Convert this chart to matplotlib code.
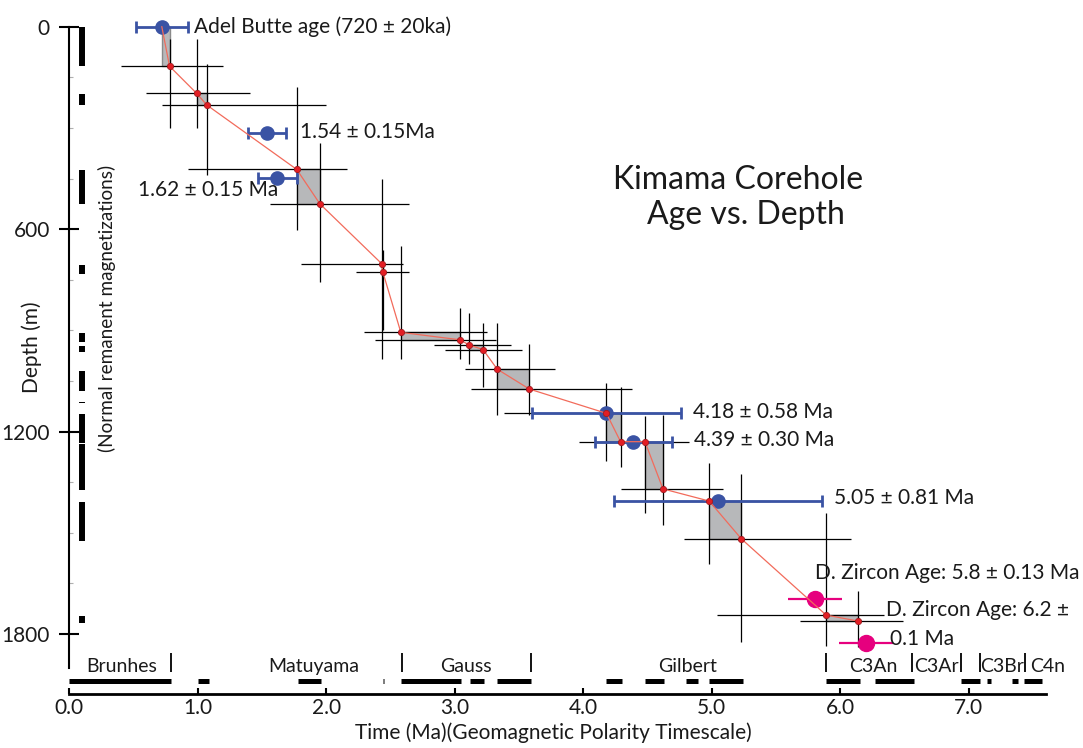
import numpy as np
import matplotlib
matplotlib.use("Agg")
import matplotlib.pyplot as plt
from matplotlib.ticker import FixedLocator

plt.rcParams['font.family'] = ['Lato', 'DejaVu Sans']

# magnetostratigraphic reversal points (age Ma, depth m), starting at the Adel Butte age
rev_age = [0.72, 0.78, 0.99, 1.07, 1.77, 1.95, 2.43, 2.44, 2.58, 3.04, 3.11,
           3.22, 3.33, 3.58, 4.18, 4.29, 4.48, 4.62, 4.98, 5.23, 5.89, 6.14]
rev_depth = [0, 117, 197, 232, 423, 525, 702, 727, 906, 928, 943,
             957, 1015, 1074, 1146, 1230, 1230, 1370, 1406, 1518, 1744, 1762]

# uncertainty crosses on the reversal points (skip the first one)
age_lo = [0.40, 0.60, 0.72, 0.92, 1.56, 1.80, 2.23, 2.29, 2.38, 2.84, 2.92,
          3.08, 3.13, 3.38, 3.97, 4.13, 4.29, 4.52, 4.78, 5.04, 5.69]
age_hi = [1.20, 1.41, 2.00, 2.16, 2.64, 2.60, 2.64, 3.25, 3.32, 3.44, 3.52,
          3.78, 4.38, 4.75, 4.60, 4.82, 5.09, 5.45, 6.08, 6.34, 6.49]
depth_lo = [36, 36, 110, 179, 346, 451, 662, 650, 835, 849, 879,
            879, 941, 1055, 1069, 1154, 1151, 1293, 1326, 1440, 1672]
depth_hi = [300, 300, 440, 603, 758, 986, 899, 986, 986, 1000, 1067,
            1152, 1152, 1286, 1306, 1442, 1477, 1592, 1823, 1836, 1838]

# radiometric ages
dated_age = [0.72, 1.54, 1.62, 4.18, 4.39, 5.05]
dated_depth = [0, 316, 449, 1146, 1230, 1406]
dated_err = [0.20, 0.15, 0.15, 0.58, 0.30, 0.81]
dated_text = ['Adel Butte age (720 ± 20ka)', '1.54 ± 0.15Ma', '1.62 ± 0.15 Ma',
              '4.18 ± 0.58 Ma', '4.39 ± 0.30 Ma', '5.05 ± 0.81 Ma']

zircon_age = [5.8, 6.2]
zircon_depth = [1695, 1826]
zircon_err = [0.21, 0.21]
zircon_text = ['D. Zircon Age: 5.8 ± 0.13 Ma', 'D. Zircon Age: 6.2 ±', '0.1 Ma']

# normal polarity intervals in the core (depth m)
core_top = [0, 200, 425, 707, 909, 946, 1020, 1111, 1148, 1237, 1410, 1747]
core_bot = [116, 233, 525, 732, 934, 963, 1079, 1116, 1233, 1373, 1523, 1767]

# geomagnetic polarity timescale, normal chrons (Ma)
gpts_start = [0.0, 1.00, 1.78, 2.44, 2.58, 3.12, 3.33, 4.18, 4.48, 4.80, 4.98,
              5.89, 6.27, 6.94, 7.14, 7.34, 7.43]
gpts_end = [0.79, 1.09, 1.96, 2.447, 3.05, 3.23, 3.59, 4.30, 4.63, 4.89, 5.24,
            6.15, 6.57, 7.09, 7.17, 7.38, 7.57]
chron_bounds = [0.79, 2.59, 3.59, 5.89, 6.56, 6.94, 7.09, 7.44]
chron_names = ['Brunhes', 'Matuyama', 'Gauss', 'Gilbert', 'C3An', 'C3Ar', 'C3Br', 'C4n']
chron_mid = [0.41, 1.90, 3.09, 4.81, 6.26, 6.75, 7.26, 7.61]

fs = 15
txt = '#1a1a1a'

fig = plt.figure(figsize=(10.83, 7.48), dpi=100)
ax = fig.add_axes([69.3 / 1083, 1 - 694 / 748, (1046 - 69.3) / 1083, (694 - 6.5) / 748])
ax.set_xlim(0, 7.601)
ax.set_ylim(1978, -60)

# grey boxes between each pair of reversals
for a0, a1, d0, d1 in zip(rev_age[0::2], rev_age[1::2], rev_depth[0::2], rev_depth[1::2]):
    ax.fill_between([a0, a1], d0, d1, facecolor='#b7b8ba', edgecolor='#8a8a8a', lw=1, zorder=1)

x = np.array(rev_age[1:])
y = np.array(rev_depth[1:])
ax.errorbar(x, y, xerr=[x - np.array(age_lo), np.array(age_hi) - x],
            yerr=[y - np.array(depth_lo), np.array(depth_hi) - y],
            fmt='none', ecolor='black', elinewidth=0.9, capsize=0, zorder=2)

ax.errorbar(dated_age, dated_depth, xerr=dated_err, fmt='o', color='#3a53a4', ms=9.5,
            elinewidth=2, capsize=4.5, capthick=2, zorder=3)
ax.errorbar(zircon_age, zircon_depth, xerr=zircon_err, fmt='o', color='#e6007e', ms=11.5,
            elinewidth=1.6, capsize=0, zorder=3)

ax.plot(rev_age, rev_depth, color='#f26b5b', lw=0.9, zorder=4)
ax.plot(rev_age[1:], rev_depth[1:], 'o', ms=4.5, mfc='#e31e24', mec='#a01a1f', mew=0.6, zorder=5)

# label positions for the dated samples
label_xy = [(0.97, 0), (1.795, 311), (0.537, 484), (4.856, 1141), (4.864, 1225), (5.951, 1398)]
for (tx, ty), s in zip(label_xy, dated_text):
    ax.text(tx, ty, s, fontsize=fs, va='center', ha='left', color=txt, zorder=6)
zircon_xy = [(5.803, 1620), (6.353, 1729), (6.387, 1816)]
for (tx, ty), s in zip(zircon_xy, zircon_text):
    ax.text(tx, ty, s, fontsize=fs, va='center', ha='left', color=txt)

# polarity column of the core
ax.vlines([0.101] * len(core_top), core_top, core_bot, color='black', lw=4.3, zorder=2)

# polarity timescale along the bottom
ax.hlines([1938] * len(gpts_start), gpts_start, gpts_end, color='black', lw=3.6, zorder=2)
ax.vlines(chron_bounds, 1856, 1913, color='black', lw=1.3)
for name, mid in zip(chron_names, chron_mid):
    ax.text(mid, 1897, name, fontsize=14, ha='center', va='center', color=txt)

ax.text(5.203, 454, 'Kimama Corehole', fontsize=23, ha='center', va='center', color=txt)
ax.text(5.265, 558, 'Age vs. Depth', fontsize=23, ha='center', va='center', color=txt)

for side in ['top', 'right']:
    ax.spines[side].set_visible(False)
ax.spines['left'].set_bounds(0, 1900)
ax.spines['left'].set_linewidth(1.5)
ax.spines['bottom'].set_linewidth(2)

ax.set_yticks([0, 600, 1200, 1800])
ax.yaxis.set_minor_locator(FixedLocator([d for d in np.arange(150, 1900, 150) if d % 600]))
ax.tick_params(axis='y', which='major', direction='inout', length=14, width=1.5,
               labelsize=fs, pad=7, labelcolor=txt)
ax.tick_params(axis='y', which='minor', direction='in', length=3, width=0.8, color='#b0b0b0')
ax.set_xticks(np.arange(0, 8))
ax.set_xticklabels(['%.1f' % v for v in np.arange(0, 8)])
ax.tick_params(axis='x', direction='in', length=4, width=1.5, labelsize=fs, pad=3, labelcolor=txt)

fig.text(32 / 1083, 1 - 347 / 748, 'Depth (m)', rotation=90, fontsize=fs, ha='center', va='center', color=txt)
fig.text(107 / 1083, 1 - 308 / 748, '(Normal remanent magnetizations)', rotation=90,
         fontsize=13.6, ha='center', va='center', color=txt)
fig.text(553 / 1083, 1 - 733 / 748, 'Time (Ma)(Geomagnetic Polarity Timescale)',
         fontsize=fs, ha='center', va='center', color=txt)

fig.savefig('out.png', dpi=100)
